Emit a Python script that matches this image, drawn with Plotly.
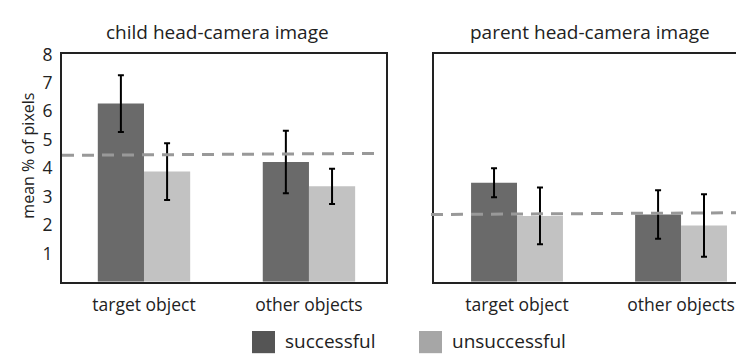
import plotly.graph_objects as go

# Categories and conditions
categories = ["target object", "other objects"]
conditions = ["successful", "unsuccessful"]

# Child head-camera: mean % of pixels and error (±)
child_successful = [6.27, 4.22]
child_successful_err = [1.0, 1.1]
child_unsuccessful = [3.88, 3.36]
child_unsuccessful_err = [1.0, 0.62]

# Parent head-camera: mean % of pixels and error (±)
parent_successful = [3.49, 2.37]
parent_successful_err = [0.51, 0.85]
parent_unsuccessful = [2.32, 1.98]
parent_unsuccessful_err = [1.0, 1.1]

# Chance-level reference (dashed), value at left and right end of each panel
child_chance = [4.45, 4.52]
parent_chance = [2.37, 2.43]

y_ticks = [1, 2, 3, 4, 5, 6, 7, 8]

bar_colors = {"successful": "#6a6a6a", "unsuccessful": "#c2c2c2"}
legend_colors = {"successful": "#555555", "unsuccessful": "#a6a6a6"}
FONT = "Open Sans"
TXT = "#222222"

W, H = 736, 358
fig = go.Figure()

panels = [
    ("x", "y", child_successful, child_successful_err, child_unsuccessful, child_unsuccessful_err),
    ("x2", "y2", parent_successful, parent_successful_err, parent_unsuccessful, parent_unsuccessful_err),
]
for xa, ya, s, se, u, ue in panels:
    for name, vals, errs in [("successful", s, se), ("unsuccessful", u, ue)]:
        fig.add_trace(go.Bar(
            x=categories, y=vals, name=name, xaxis=xa, yaxis=ya,
            marker=dict(color=bar_colors[name], line=dict(width=0)),
            error_y=dict(type="data", array=errs, visible=True,
                         color="black", thickness=2, width=3),
            showlegend=False,
        ))

fig.update_layout(
    width=W, height=H,
    margin=dict(l=0, r=0, t=0, b=0),
    paper_bgcolor="white", plot_bgcolor="white",
    barmode="group", bargap=0.44, bargroupgap=0,
    font=dict(family=FONT, color=TXT, size=16),
)

y_dom = [1 - 279 / H, 1 - 43 / H]
axis_common = dict(showgrid=False, zeroline=False, linecolor=TXT, linewidth=2, ticks="")
xtick_font = dict(size=17.5, family=FONT, color=TXT)

fig.update_layout(
    xaxis=dict(domain=[62 / W, 386 / W], range=[-0.497, 1.467], showline=True, mirror=True,
               anchor="y", ticklabelstandoff=6, tickfont=xtick_font, **axis_common),
    yaxis=dict(domain=y_dom, range=[0, 8], tickvals=y_ticks, showline=True, mirror=True,
               anchor="x", ticklabelstandoff=4, tickfont=dict(size=17.5, family=FONT, color=TXT),
               **axis_common),
    xaxis2=dict(domain=[434 / W, 1.0], range=[-0.506, 1.335], showline=True, mirror=True,
                anchor="y2", ticklabelstandoff=6, tickfont=xtick_font, **axis_common),
    yaxis2=dict(domain=y_dom, range=[0, 8], tickvals=y_ticks, showline=True, mirror=False,
                showticklabels=False, anchor="x2", **axis_common),
)

# Dashed chance-level lines
fig.add_shape(type="line", xref="x domain", yref="y", x0=0.0, x1=0.98,
              y0=child_chance[0], y1=child_chance[1],
              line=dict(color="#999999", width=3, dash="12px,8px"), layer="above")
fig.add_shape(type="line", xref="x2 domain", yref="y2", x0=-0.01, x1=1.0,
              y0=parent_chance[0], y1=parent_chance[1],
              line=dict(color="#999999", width=3, dash="12px,8px"), layer="above")

# Panel titles
for txt, xc in [("child head-camera image", 217), ("parent head-camera image", 590)]:
    fig.add_annotation(text=txt, x=xc / W, y=1 - 20 / H, xref="paper", yref="paper",
                       showarrow=False, font=dict(size=19, family=FONT, color=TXT),
                       xanchor="center", yanchor="middle")

# Y-axis title
fig.add_annotation(text="mean % of pixels", x=28 / W, y=1 - 148 / H,
                   xref="paper", yref="paper", textangle=-90, showarrow=False,
                   font=dict(size=16, family=FONT, color=TXT),
                   xanchor="center", yanchor="middle")

# Legend: colour squares with labels
legend_items = [("successful", 252), ("unsuccessful", 419)]
for name, x0 in legend_items:
    fig.add_shape(type="rect", xref="paper", yref="paper",
                  x0=x0 / W, x1=(x0 + 23) / W, y0=1 - 353 / H, y1=1 - 330 / H,
                  fillcolor=legend_colors[name], line=dict(width=0))
    fig.add_annotation(text=name, x=(x0 + 31) / W, y=1 - 340 / H, xref="paper", yref="paper",
                       showarrow=False, xanchor="left", yanchor="middle",
                       font=dict(size=19, family=FONT, color=TXT))

fig.write_html("out.html")
